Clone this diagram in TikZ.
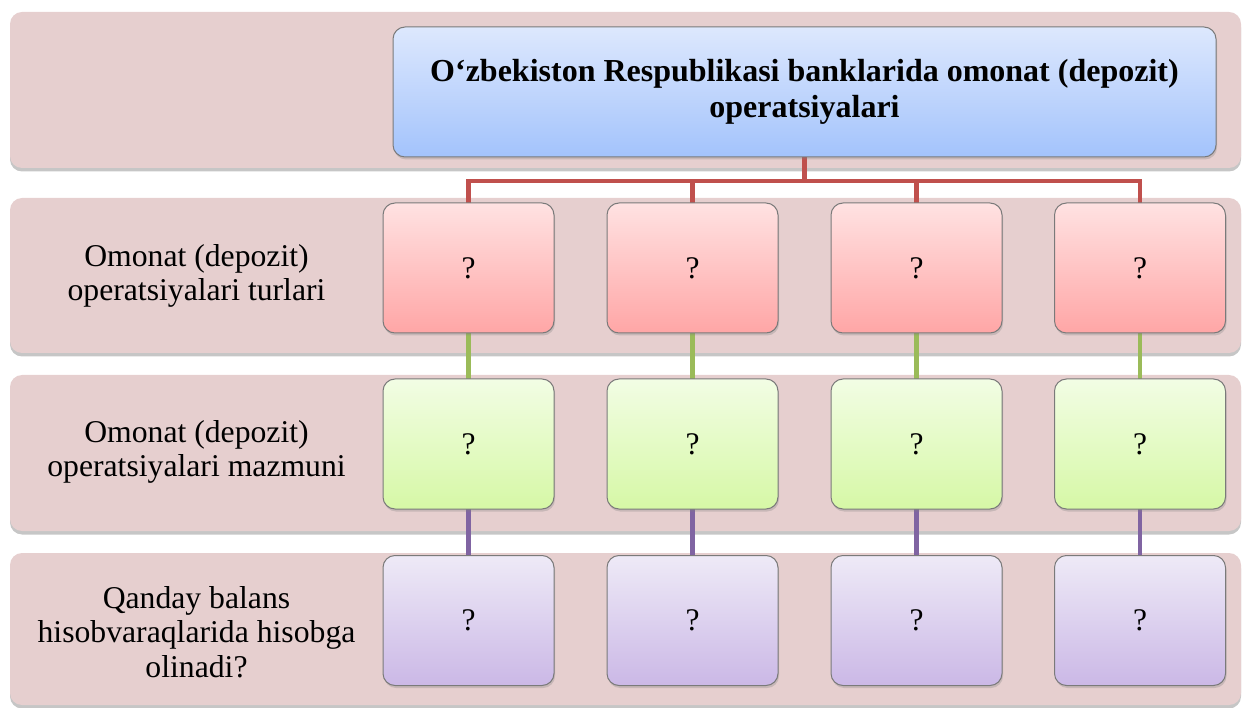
\documentclass[tikz,border=0pt]{standalone}
\usepackage{fontspec}
\setmainfont{Liberation Serif}
\usetikzlibrary{shadows}
\definecolor{bandc}{HTML}{E6CFCF}
\definecolor{bluetop}{HTML}{DDE8FD}
\definecolor{bluebot}{HTML}{A3C3FC}
\definecolor{redtop}{HTML}{FFE2E2}
\definecolor{redbot}{HTML}{FFA6A6}
\definecolor{greentop}{HTML}{F2FDE4}
\definecolor{greenbot}{HTML}{D6F8A6}
\definecolor{purptop}{HTML}{EEEAF7}
\definecolor{purpbot}{HTML}{CBB8E6}
\definecolor{redln}{HTML}{C0504D}
\definecolor{greenln}{HTML}{9BBB59}
\definecolor{purpln}{HTML}{8064A2}
\definecolor{edgec}{HTML}{7A7A7A}
\tikzset{
  band/.style={fill=bandc, rounded corners=12pt, drop shadow={shadow xshift=0pt, shadow yshift=-3.5pt, opacity=0.45}},
  cellbox/.style={draw=edgec, line width=1pt, rounded corners=12pt, minimum width=171pt, minimum height=130pt, outer sep=0pt, inner sep=0pt,
    drop shadow={shadow xshift=1pt, shadow yshift=-2.5pt, opacity=0.3},
    font=\fontsize{31.5}{34}\selectfont},
  redbox/.style={cellbox, top color=redtop, bottom color=redbot},
  greenbox/.style={cellbox, top color=greentop, bottom color=greenbot},
  purpbox/.style={cellbox, top color=purptop, bottom color=purpbot},
  titlebox/.style={draw=edgec, line width=1pt, rounded corners=12pt, minimum width=823pt, minimum height=130pt, outer sep=0pt,
    top color=bluetop, bottom color=bluebot, align=center,
    drop shadow={shadow xshift=1pt, shadow yshift=-2.5pt, opacity=0.3},
    font=\fontsize{32}{36}\selectfont\bfseries},
  label/.style={align=center, font=\fontsize{31.7}{34.5}\selectfont},
  redline/.style={draw=redln, line width=4.5pt},
  greenline/.style={draw=greenln, line width=4.5pt},
  purpline/.style={draw=purpln, line width=4.5pt}
}
\begin{document}
\begin{tikzpicture}[x=1pt,y=-1pt]
\useasboundingbox (0,0) rectangle (1242,708);
% bands
\path[band] (10,12) rectangle (1241,168);
\path[band] (10,198) rectangle (1241,353);
\path[band] (10,375) rectangle (1241,531);
\path[band] (10,553) rectangle (1241,705);
% connectors
\coordinate (j) at (804.5,181);
\foreach \x [count=\i] in {468.5,692.5,916.5,1140} {
  \coordinate (rt\i) at (\x,203);
}
\draw[redline] (804.5,157) -- (j);
\foreach \i in {1,...,4} {
  \draw[redline, line join=miter] (j) -| (rt\i);
}
\foreach \x [count=\i] in {468.5,692.5,916.5,1140} {
  \draw[greenline] (\x,333) -- (\x,379);
  \draw[purpline] (\x,509) -- (\x,556);
}
% title
\node[titlebox] (top) at (804.5,92) {O‘zbekiston Respublikasi banklarida omonat (depozit)\\ operatsiyalari};
% boxes
\foreach \x [count=\i] in {468.5,692.5,916.5,1140} {
  \node[redbox] (r\i) at (\x,268) {?};
  \node[greenbox] (g\i) at (\x,444) {?};
  \node[purpbox] (p\i) at (\x,620.5) {?};
}
% labels
\node[label] (l1) at (196.5,276) {Omonat (depozit)\\operatsiyalari turlari};
\node[label] (l2) at (196.5,452) {Omonat (depozit)\\operatsiyalari mazmuni};
\node[label] (l3) at (196.5,632) {Qanday balans\\hisobvaraqlarida hisobga\\olinadi?};
\end{tikzpicture}
\end{document}
